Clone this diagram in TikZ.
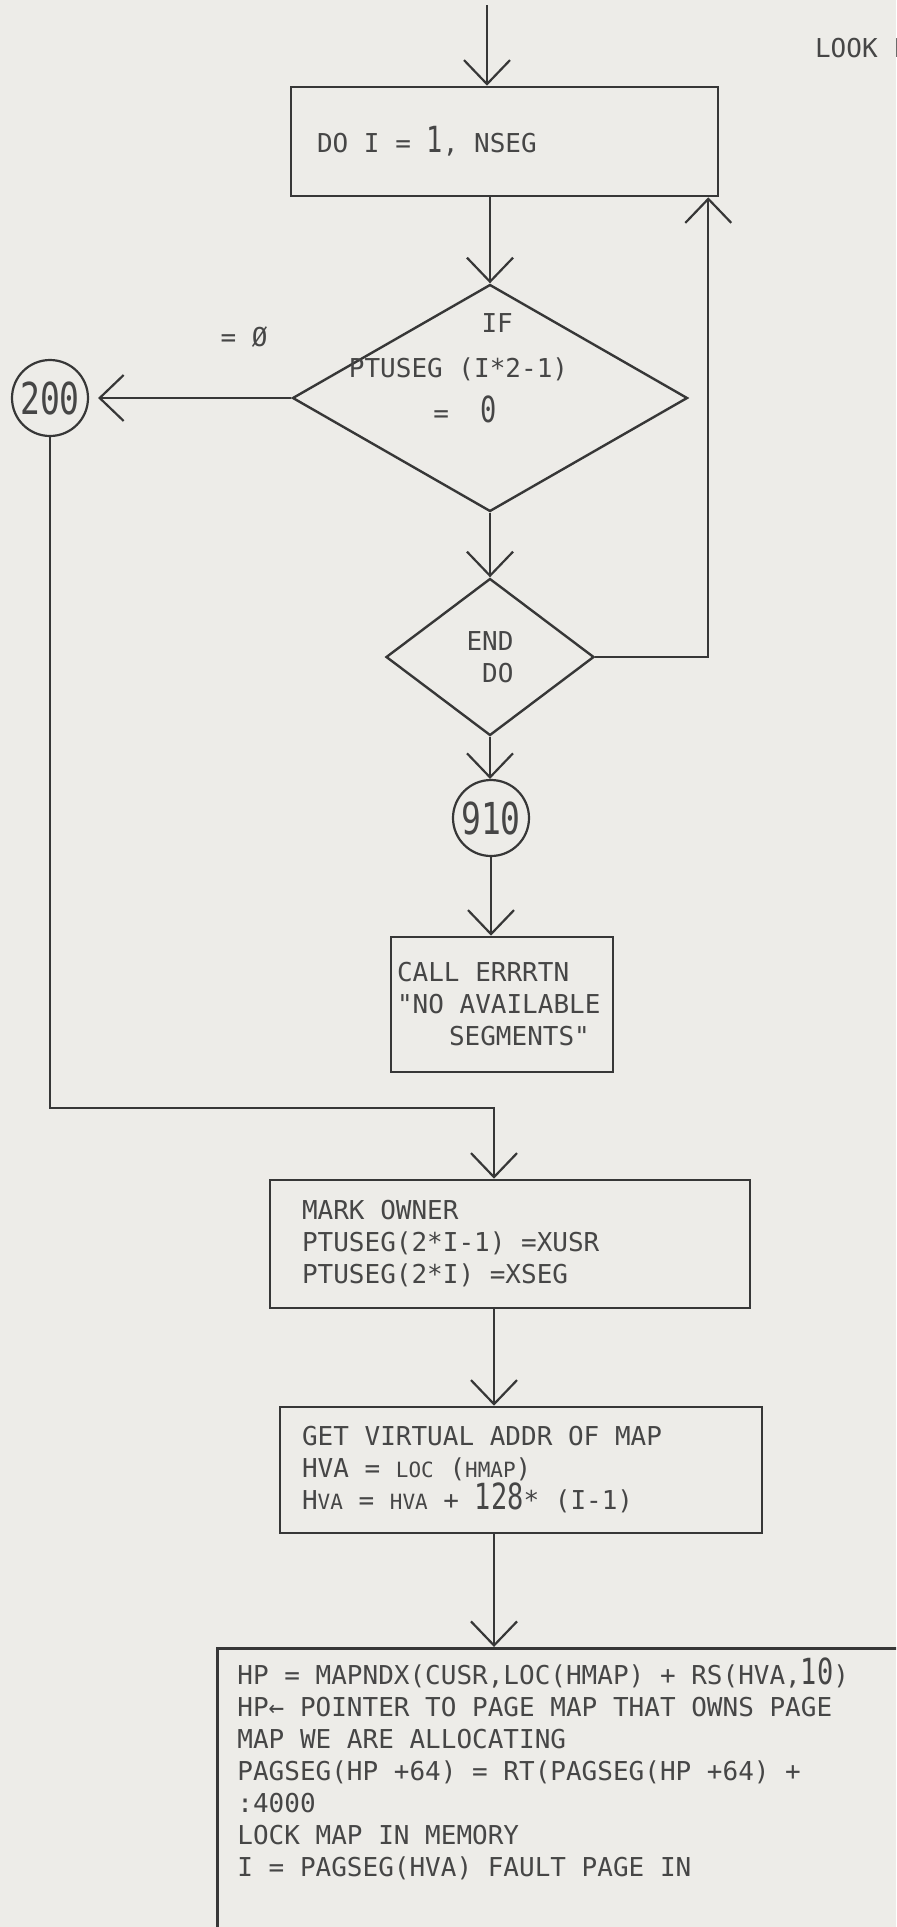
\documentclass[tikz,border=0pt]{standalone}
\usepackage{fontspec}
\setmonofont{DejaVu Sans Mono}
\newfontfamily\tallfont[FakeStretch=0.75]{DejaVu Sans Mono}
\usetikzlibrary{shapes,arrows.meta,positioning,calc}
\definecolor{papercolor}{RGB}{237,236,232}
\definecolor{inkcolor}{RGB}{55,55,55}
\definecolor{textcolor}{RGB}{70,70,70}
\newcommand{\bigdig}[1]{{\tallfont\fontsize{18pt}{16pt}\selectfont #1}}
\newcommand{\lowcap}[1]{{\fontsize{10.5pt}{16pt}\selectfont #1}}

\begin{document}
\begin{tikzpicture}[
    x=0.5pt, y=-0.5pt,
    font=\ttfamily\fontsize{13pt}{16pt}\selectfont,
    every node/.style={text=textcolor},
    block/.style={rectangle, draw=inkcolor, line width=1.3pt, align=flush left, inner ysep=0pt},
    decision/.style={diamond, draw=inkcolor, line width=1.2pt, inner sep=0pt},
    connector/.style={circle, draw=inkcolor, line width=1.1pt, minimum size=38pt, inner sep=0pt, font=\tallfont\fontsize{22pt}{22pt}\selectfont},
    arrow/.style={-{Straight Barb[length=12pt,width=23pt]}, draw=inkcolor, line width=1.1pt}
]

% Page
\useasboundingbox (0,0) rectangle (896,1927);
\fill[papercolor] (0,0) rectangle (896,1927);
\clip (0,0) rectangle (896,1927);

% Loop over segments
\coordinate (entry) at (487,5);
\node[block, text width=187.5pt, inner xsep=13pt, minimum height=54.5pt] (doloop) at (504.5,141.5) {DO I = \bigdig{1}, NSEG};
\node[decision, minimum width=197.5pt, minimum height=113.5pt] (test) at (490,398) {};
\node[align=left, inner sep=0pt, font=\ttfamily\fontsize{13pt}{22.5pt}\selectfont] (testtext) at ([xshift=-15.75pt,yshift=15pt]test.center) {\hspace*{5.1em}IF\\PTUSEG (I*2-1)\\\hspace*{3.25em}=~~\bigdig{0}};
\node (eqzero) at (244,337) {= Ø};
\node[connector] (c200) at (50,398) {200};
\node[decision, minimum width=104pt, minimum height=78.5pt, align=left] (enddo) at (490,657) {END\\\hspace*{0.6em}DO};
\node[connector] (c910) at (491,818) {910};
\node[block, text width=105pt, inner xsep=3pt, minimum height=67.5pt] (call) at (502,1004.5) {CALL ERRRTN\\"NO AVAILABLE\\\hspace*{2em}SEGMENTS"};

% Segment found
\coordinate (merge) at (494,1108);
\node[block, text width=208pt, inner xsep=16pt, minimum height=64pt] (mark) at (510,1244) {MARK OWNER\\PTUSEG(2*I-1) =XUSR\\PTUSEG(2*I) =XSEG};
\node[block, text width=219pt, inner xsep=11pt, minimum height=63pt] (getva) at (521,1470) {GET VIRTUAL ADDR OF MAP\\HVA = \lowcap{LOC} (\lowcap{HMAP})\\H\lowcap{VA} = \lowcap{HVA} + \bigdig{128}* (I-1)};
\node[block, anchor=north west, minimum width=360pt, minimum height=170pt] (hp) at (216,1647) {};
\node[anchor=north west, align=left, inner sep=0pt] (hptext) at ([xshift=10.5pt,yshift=-5pt]hp.north west) {HP = MAPNDX(CUSR,LOC(HMAP) + RS(HVA,\bigdig{10})\\HP← POINTER TO PAGE MAP THAT OWNS PAGE\\MAP WE ARE ALLOCATING\\PAGSEG(HP +64) = RT(PAGSEG(HP +64) +\\:4000\\LOCK MAP IN MEMORY\\I = PAGSEG(HVA) FAULT PAGE IN};

% Title
\node[anchor=west] (lookfor) at (808,48) {LOOK F};

% Arrows
\draw[arrow] (entry) -- (entry |- doloop.north);
\draw[arrow] (doloop.south -| test.north) -- (test.north);
\draw[arrow, shorten >=4.5pt] (test.west) -- (c200.east);
\draw[arrow] (test.south) -- (enddo.north);
\draw[arrow] (enddo.east) -| ([xshift=-5.5pt]doloop.south east);
\draw[arrow] (enddo.south) -- (enddo.south |- c910.north);
\draw[arrow] (c910.south) -- (c910.south |- call.north);
\draw[arrow] (c200.south) |- (merge) -- (merge |- mark.north);
\draw[arrow] (mark.south -| merge) -- (merge |- getva.north);
\draw[arrow] (getva.south -| merge) -- (merge |- hp.north);

\end{tikzpicture}
\end{document}
